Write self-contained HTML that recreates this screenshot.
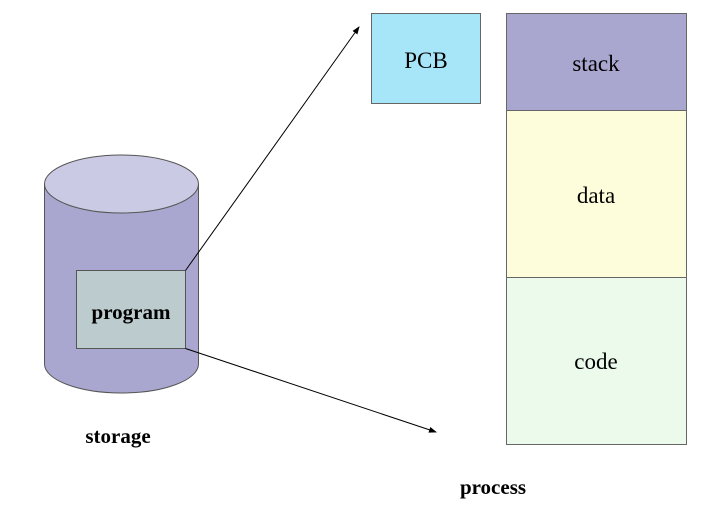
<!DOCTYPE html>
<html><head><meta charset="utf-8"><style>
html,body{margin:0;padding:0;background:#fff;}
svg{display:block;}
text{font-family:"Liberation Serif",serif;fill:#000;}
</style></head><body>
<svg width="710" height="516" viewBox="0 0 710 516" xmlns="http://www.w3.org/2000/svg">
<defs><marker id="ah" markerWidth="8" markerHeight="8" refX="7" refY="4" orient="auto" markerUnits="userSpaceOnUse"><path d="M0,1 L8,4 L0,7 Z" fill="#000"/></marker></defs>
<!-- cylinder -->
<path d="M44.5,184 L44.5,364 A77,29 0 0 0 198.5,364 L198.5,184 Z" fill="#a9a7d0" stroke="#555" stroke-width="1"/>
<ellipse cx="121.5" cy="184" rx="77" ry="29" fill="#cbcae4" stroke="#555" stroke-width="1"/>
<rect x="76.5" y="270.5" width="109" height="78" fill="#bccbcd" stroke="#555" stroke-width="1"/>
<text x="131" y="319" font-size="21" font-weight="bold" text-anchor="middle">program</text>
<line x1="185.5" y1="270.5" x2="359" y2="27" stroke="#000" stroke-width="1" marker-end="url(#ah)"/>
<line x1="185.5" y1="348.5" x2="436" y2="432" stroke="#000" stroke-width="1" marker-end="url(#ah)"/>
<text x="118" y="443" font-size="21" font-weight="bold" text-anchor="middle">storage</text>
<!-- PCB -->
<rect x="371.5" y="13.5" width="109" height="90" fill="#a7e6f8" stroke="#666" stroke-width="1"/>
<text x="426" y="68" font-size="23" text-anchor="middle">PCB</text>
<!-- process column -->
<rect x="506.5" y="13.5" width="180" height="97" fill="#a9a7d0" stroke="#666" stroke-width="1"/>
<rect x="506.5" y="110.5" width="180" height="167" fill="#fefddb" stroke="#666" stroke-width="1"/>
<rect x="506.5" y="277.5" width="180" height="167" fill="#ebfaea" stroke="#666" stroke-width="1"/>
<text x="596" y="71" font-size="23" text-anchor="middle">stack</text>
<text x="596" y="203" font-size="23" text-anchor="middle">data</text>
<text x="596" y="369" font-size="23" text-anchor="middle">code</text>
<text x="493" y="494" font-size="21" font-weight="bold" text-anchor="middle">process</text>
</svg>
</body></html>
